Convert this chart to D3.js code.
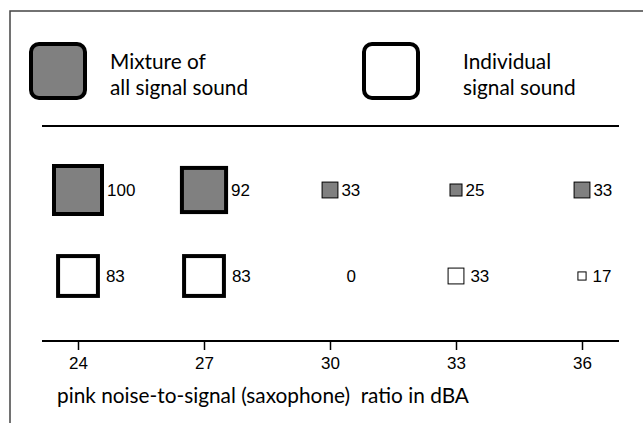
<!DOCTYPE html>
<html>
<head>
<meta charset="utf-8">
<script src="https://cdn.jsdelivr.net/npm/d3@7"></script>
<style>
body{margin:0;background:#fff;}
</style>
</head>
<body>
<div id="container"></div>
<script>
var noiseRatio=[24,27,30,33,36];
var mixtureValues=[100,92,33,25,33];
var individualValues=[83,83,0,33,17];
var rowNames=['mixture','individual'];
var legendLabels=[['Mixture of','all signal sound'],['Individual','signal sound']];
var xLabel='pink noise-to-signal (saxophone)  ratio in dBA';

var width=643;
var height=423;

var svg=d3.select('#container')
.append('svg')
.attr('width',width)
.attr('height',height)
.style('background-color','white');

// frame
svg.append('path')
.attr('d','M10,'+height+' V11 H'+width)
.attr('fill','none')
.attr('stroke','#444')
.attr('stroke-width',1.5);

// legend
var legend=svg.selectAll('.legend')
.data(legendLabels)
.enter()
.append('g')
.attr('class','legend')
.attr('transform',(d,i)=>'translate('+(i===0?31:364)+',44)');

legend.append('rect')
.attr('width',54)
.attr('height',54)
.attr('rx',8)
.attr('fill',(d,i)=>i===0?'#808080':'white')
.attr('stroke','black')
.attr('stroke-width',4);

legend.append('text')
.attr('x',(d,i)=>i===0?79:99)
.attr('y',25)
.style('font-family','Lato, sans-serif')
.style('font-size','20.8px')
.text(d=>d[0]);

legend.append('text')
.attr('x',(d,i)=>i===0?79:99)
.attr('y',51)
.style('font-family','Lato, sans-serif')
.style('font-size','20.8px')
.text(d=>d[1]);

svg.append('line')
.attr('x1',42).attr('x2',619)
.attr('y1',126).attr('y2',126)
.attr('stroke','black')
.attr('stroke-width',2);

var xScale=d3.scaleLinear()
.domain([24,36])
.range([78,582]);

var yScale=d3.scalePoint()
.domain(rowNames)
.range([190,276]);

var sizeScale=d3.scaleLinear()
.domain([0,100])
.range([0,48]);

var strokeScale=d3.scaleThreshold()
.domain([50])
.range([1,4]);

var cells=[];
noiseRatio.forEach(function(r,i){
    cells.push({ratio:r,row:'mixture',value:mixtureValues[i]});
    cells.push({ratio:r,row:'individual',value:individualValues[i]});
});

var g=svg.append('g');

g.selectAll('rect')
.data(cells.filter(d=>d.value>0))
.enter()
.append('rect')
.attr('x',d=>xScale(d.ratio)-sizeScale(d.value)/2)
.attr('y',d=>yScale(d.row)-sizeScale(d.value)/2)
.attr('width',d=>sizeScale(d.value))
.attr('height',d=>sizeScale(d.value))
.attr('fill',d=>d.row==='mixture'?'#808080':'white')
.attr('stroke','black')
.attr('stroke-width',d=>strokeScale(d.value));

g.selectAll('.val')
.data(cells)
.enter()
.append('text')
.attr('class','val')
.attr('x',d=>xScale(d.ratio)+sizeScale(d.value)/2+strokeScale(d.value)/2+(d.value>0?(d.row==='mixture'?3:6):16))
.attr('y',d=>yScale(d.row))
.attr('dy','0.36em')
.style('font-family','"Liberation Sans", Arial, sans-serif')
.style('font-size','17px')
.text(d=>d.value);

var x_axis=d3.axisBottom()
.scale(xScale)
.tickValues(noiseRatio)
.tickSize(9)
.tickPadding(7);

var axisG=svg.append('g')
.attr('transform','translate(0,341)')
.call(x_axis);

axisG.select('.domain')
.attr('d','M42,0H619')
.attr('stroke','black')
.attr('stroke-width',2);

axisG.selectAll('.tick line')
.attr('stroke','black')
.attr('stroke-width',1.5);

axisG.selectAll('.tick text')
.style('font-family','"Liberation Sans", Arial, sans-serif')
.style('font-size','17px')
.attr('fill','black');

svg.append('text')
.attr('x',57)
.attr('y',403)
.attr('xml:space','preserve')
.style('white-space','pre')
.style('font-family','Lato, sans-serif')
.style('font-size','20.8px')
.text(xLabel);
</script>
</body>
</html>
